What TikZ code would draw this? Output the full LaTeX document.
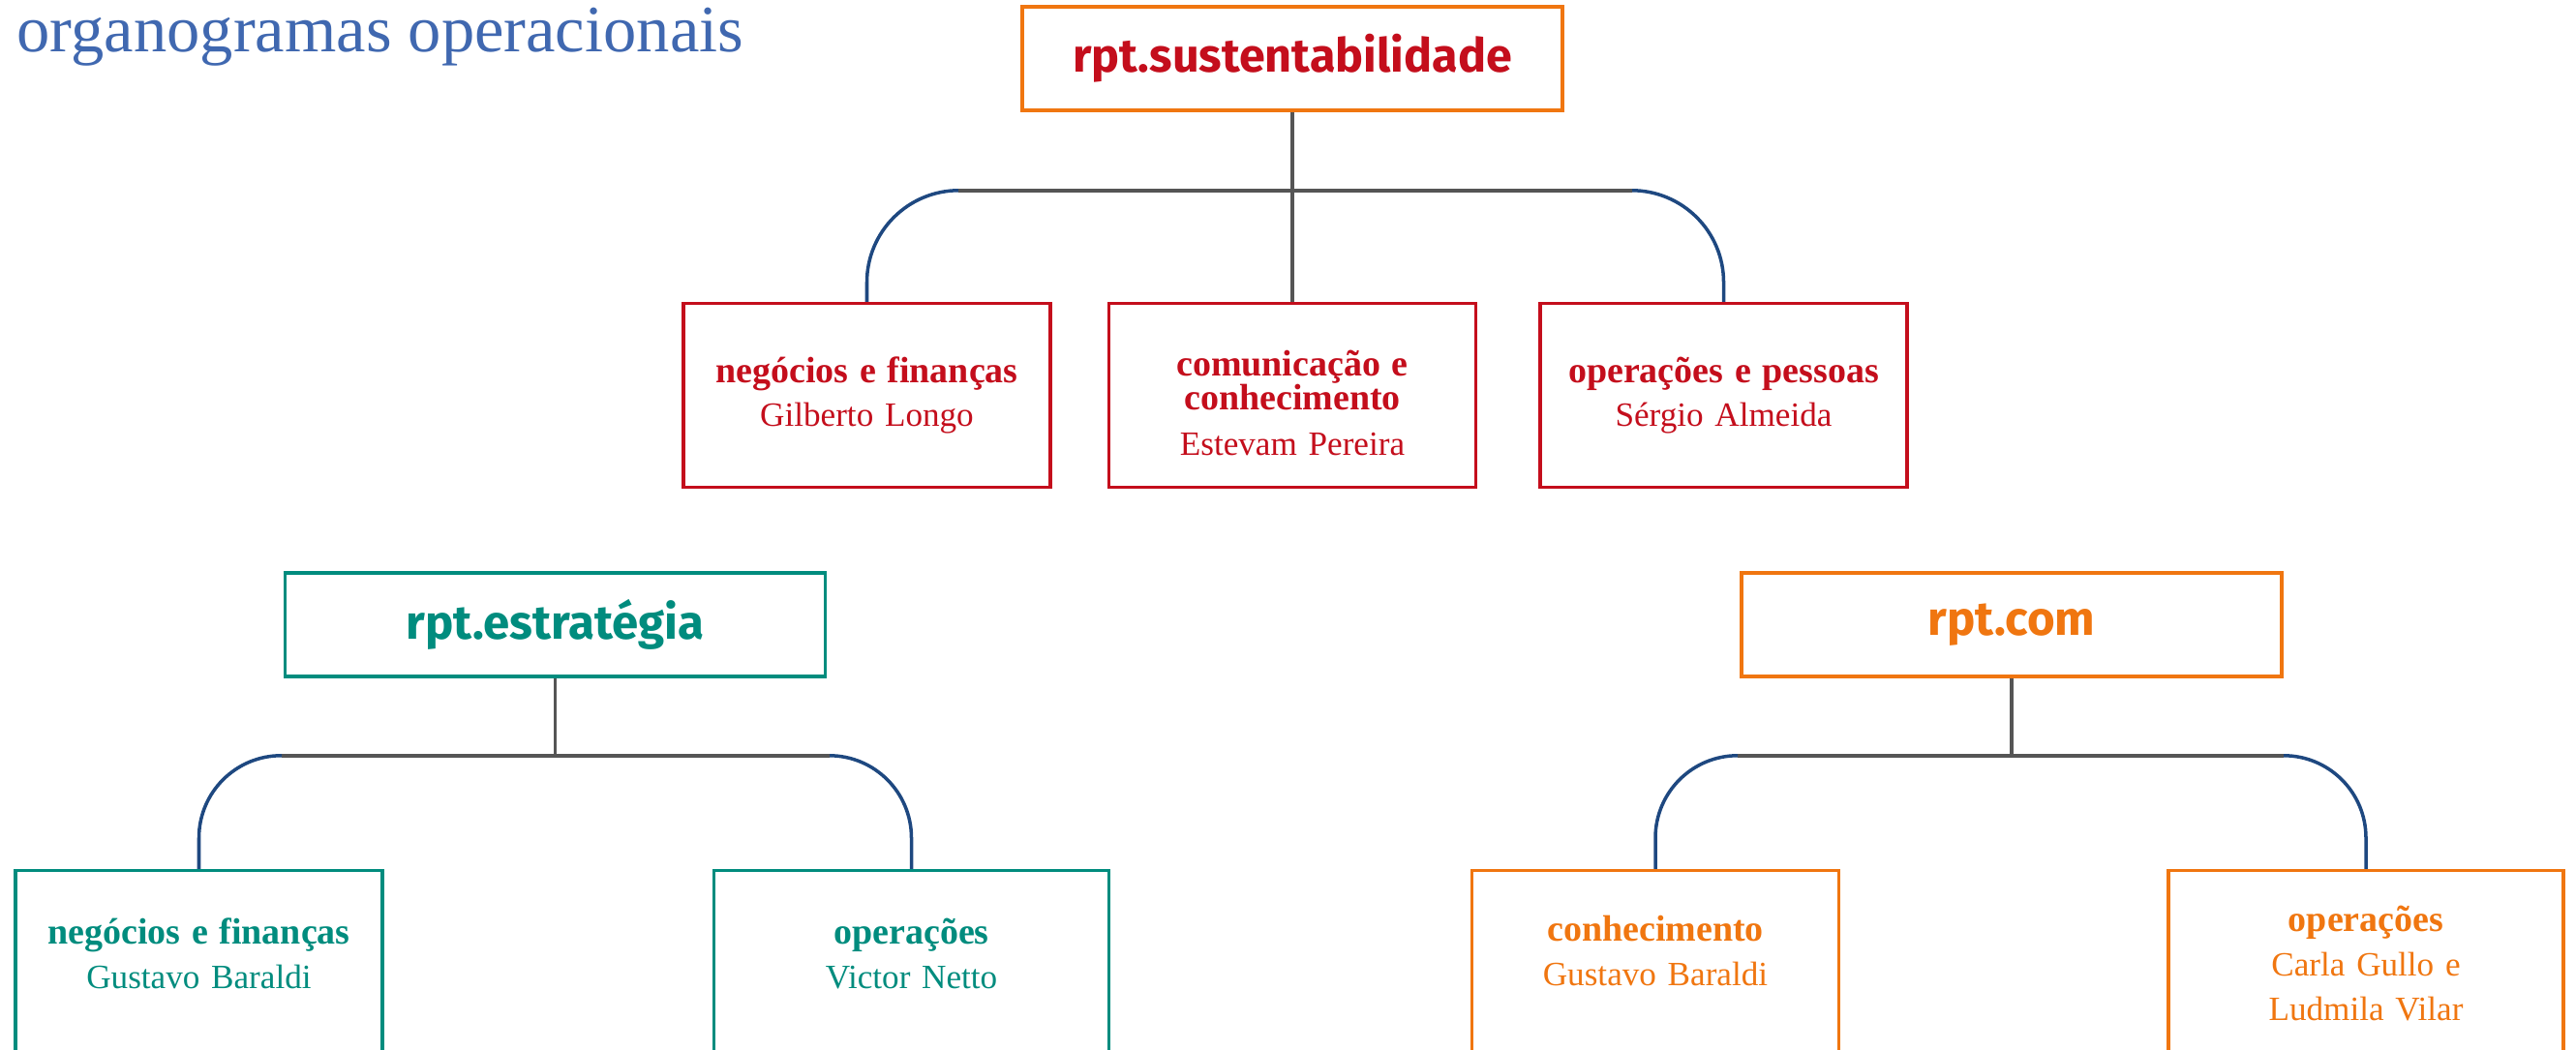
\documentclass[tikz,border=0pt]{standalone}
\usepackage{fontspec}
\setmainfont{Liberation Serif}
\newfontfamily\rptfont{Fira Sans}
\usetikzlibrary{positioning,calc}
\definecolor{titleblue}{RGB}{64,104,176}
\definecolor{rptorange}{RGB}{240,118,16}
\definecolor{rptred}{RGB}{196,14,28}
\definecolor{rptteal}{RGB}{0,140,126}
\definecolor{linegray}{RGB}{85,85,85}
\definecolor{linkblue}{RGB}{30,72,128}
\tikzset{
    % Define standard node styles
    headbox/.style={
        rectangle, draw, line width=1pt, fill=white,
        minimum width=5.58cm, minimum height=1.07cm,
        font=\rptfont\bfseries\fontsize{14}{16}\selectfont
    },
    unitbox/.style={
        rectangle, draw, line width=1pt, fill=white,
        minimum width=3.79cm, minimum height=1.9cm,
        text width=3.5cm, align=center,
        font=\fontsize{10}{10}\selectfont
    },
    widebox/.style={
        unitbox, minimum width=4.08cm, text width=3.8cm
    },
    trunkline/.style={
        draw=linegray, line width=1pt
    },
    branchline/.style={
        draw=linkblue, line width=1pt, rounded corners=0.85cm
    }
}

\begin{document}
\begin{tikzpicture}[node distance=1.97cm and 0.6cm]

\useasboundingbox (0,0) rectangle (26.61,-10.84);

% Page title
\node[anchor=base west, inner sep=0pt, text=titleblue,
      font=\fontsize{19.5}{22}\selectfont] (title) at (0.17,-0.53) {organogramas operacionais};

% rpt.sustentabilidade
\node[headbox, draw=rptorange, text=rptred, font=\rptfont\bfseries\fontsize{13.8}{16}\selectfont]
    (sust) at (13.35,-0.605) {rpt.sustentabilidade};
\node[unitbox, draw=rptred, text=rptred, below=1.96cm of sust] (sust_com)
    {{\bfseries\fontsize{10.8}{10.4}\selectfont\rule{0pt}{12pt}comunica\c{c}\~ao e\\conhecimento}\\[3.5pt]Estevam Pereira};
\node[unitbox, draw=rptred, text=rptred, left=0.57cm of sust_com] (sust_neg)
    {{\bfseries\fontsize{10.8}{9.8}\selectfont neg\'ocios e finan\c{c}as}\\[3pt]Gilberto Longo};
\node[unitbox, draw=rptred, text=rptred, right=0.63cm of sust_com] (sust_pes)
    {{\bfseries\fontsize{10.8}{9.8}\selectfont opera\c{c}\~oes e pessoas}\\[3pt]S\'ergio Almeida};

% rpt.estratégia
\node[headbox, draw=rptteal, text=rptteal] (estr) at (5.735,-6.455) {rpt.estrat\'egia};
\node[unitbox, draw=rptteal, text=rptteal, minimum height=1.92cm,
      below=of estr, xshift=-3.68cm] (estr_neg)
    {{\bfseries\fontsize{10.8}{9.8}\selectfont neg\'ocios e finan\c{c}as}\\[3pt]Gustavo Baraldi\rule[-5.8pt]{0pt}{5.8pt}};
\node[widebox, draw=rptteal, text=rptteal, minimum height=1.92cm,
      below=of estr, xshift=3.68cm] (estr_ope)
    {{\bfseries\fontsize{10.8}{9.8}\selectfont opera\c{c}\~oes}\\[3pt]Victor Netto\rule[-5.8pt]{0pt}{5.8pt}};

% rpt.com
\node[headbox, draw=rptorange, text=rptorange] (com) at (20.78,-6.455) {rpt.com};
\node[unitbox, draw=rptorange, text=rptorange, minimum height=1.92cm,
      below=of com, xshift=-3.68cm] (com_con)
    {{\bfseries\fontsize{10.8}{9.8}\selectfont conhecimento}\\[3pt]Gustavo Baraldi\rule[-7.6pt]{0pt}{7.6pt}};
\node[widebox, draw=rptorange, text=rptorange, minimum height=1.92cm,
      below=of com, xshift=3.66cm] (com_ope)
    {{\bfseries\fontsize{10.8}{9.8}\selectfont opera\c{c}\~oes}\\[3pt]Carla Gullo e\\[3pt]Ludmila Vilar};

% Bar levels
\coordinate (sust_bar) at ($(sust.south)+(0,-0.81)$);
\coordinate (estr_bar) at ($(estr.south)+(0,-0.80)$);
\coordinate (com_bar) at ($(com.south)+(0,-0.80)$);

% Curved branches to the side units
\draw[branchline, rounded corners=0.95cm] (sust_bar) -| (sust_neg.north);
\draw[branchline, rounded corners=0.95cm] (sust_bar) -| (sust_pes.north);
\draw[branchline] (estr_bar) -| (estr_neg.north);
\draw[branchline] (estr_bar) -| (estr_ope.north);
\draw[branchline] (com_bar) -| (com_con.north);
\draw[branchline] (com_bar) -| (com_ope.north);

% Straight trunks
\draw[trunkline] (sust) -- (sust_com);
\draw[trunkline] ($(sust_neg.north |- sust_bar)+(0.95,0)$) -- ($(sust_pes.north |- sust_bar)+(-0.95,0)$);
\draw[trunkline] (estr) -- (estr_bar);
\draw[trunkline] ($(estr_neg.north |- estr_bar)+(0.85,0)$) -- ($(estr_ope.north |- estr_bar)+(-0.85,0)$);
\draw[trunkline] (com) -- (com_bar);
\draw[trunkline] ($(com_con.north |- com_bar)+(0.85,0)$) -- ($(com_ope.north |- com_bar)+(-0.85,0)$);

\end{tikzpicture}
\end{document}
